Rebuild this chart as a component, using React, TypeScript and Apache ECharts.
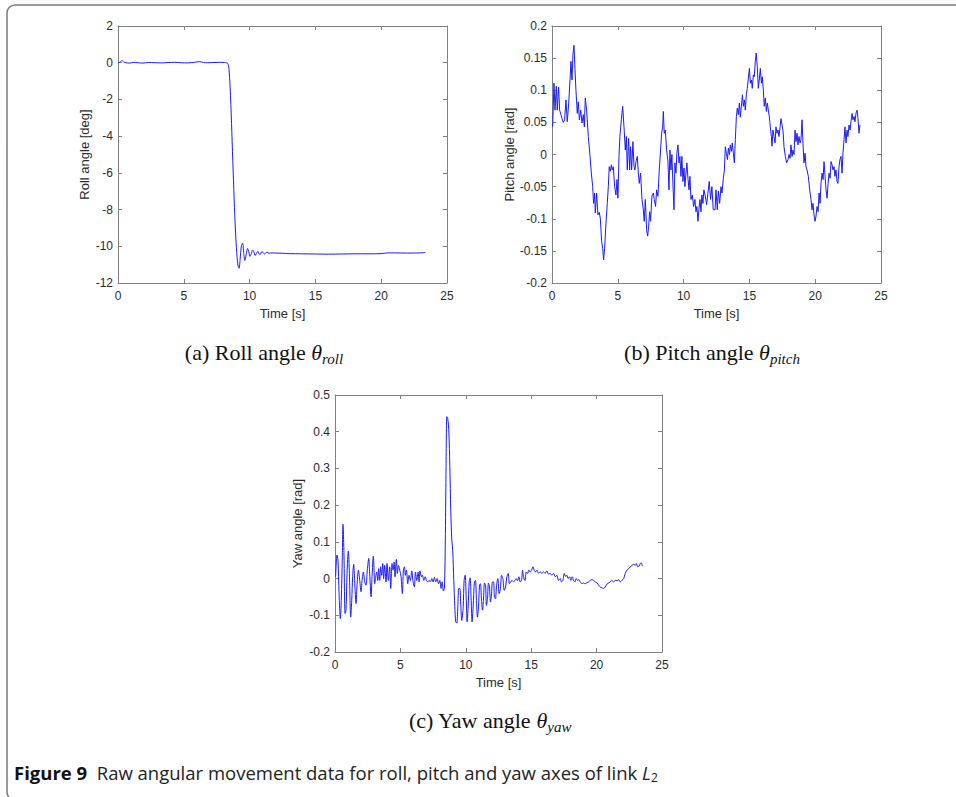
import React, { useEffect, useRef } from "react";
import * as echarts from "echarts";

// ---- data (time [s], value) ----
const roll: number[][] = [
  [0, 0], [0.15, 0.03], [0.3, 0.12], [0.45, 0.03], [0.6, 0], [0.9, -0.02], [1.2, 0.02], [1.5, 0], [1.9, -0.02],
  [2.3, 0.01], [2.8, 0], [3.3, -0.01], [3.8, 0.01], [4.3, 0.02], [4.8, 0], [5.3, -0.01], [5.8, 0.02], [6.2, 0.06],
  [6.5, 0.01], [6.8, 0], [7.2, 0.01], [7.7, 0.02], [8.1, 0.01], [8.35, -0.05], [8.45, -0.5], [8.55, -1.8],
  [8.65, -3.8], [8.75, -5.9], [8.85, -7.9], [8.95, -9.5], [9.05, -10.6], [9.13, -11.1], [9.2, -11.2],
  [9.28, -10.7], [9.37, -10.0], [9.47, -9.83], [9.56, -10.4], [9.64, -10.77], [9.74, -10.45], [9.85, -10.12],
  [9.94, -10.3], [10.03, -10.55], [10.13, -10.4], [10.23, -10.2], [10.32, -10.3], [10.42, -10.5], [10.52, -10.38],
  [10.62, -10.27], [10.72, -10.42], [10.82, -10.44], [10.92, -10.3], [11.02, -10.33], [11.12, -10.42],
  [11.22, -10.37], [11.32, -10.32], [11.45, -10.38], [11.7, -10.36], [12.0, -10.37], [12.5, -10.38], [13, -10.4],
  [14, -10.41], [15, -10.42], [16, -10.43], [17, -10.42], [18, -10.41], [19, -10.41], [20, -10.4], [20.5, -10.36],
  [21, -10.36], [22, -10.37], [23, -10.36], [23.35, -10.34],
];

const pitch: number[][] = [
  [0.05, 0.0435], [0.15, 0.111], [0.23, 0.069], [0.33, 0.106], [0.4, 0.069], [0.5, 0.105], [0.58, 0.069],
  [0.68, 0.062], [0.76, 0.056], [0.86, 0.05], [0.96, 0.054], [1.06, 0.085], [1.16, 0.051], [1.27, 0.08],
  [1.37, 0.116], [1.44, 0.145], [1.52, 0.116], [1.59, 0.155], [1.67, 0.17], [1.75, 0.132], [1.82, 0.1],
  [1.92, 0.064], [2.0, 0.082], [2.08, 0.054], [2.18, 0.069], [2.28, 0.049], [2.38, 0.062], [2.46, 0.043],
  [2.53, 0.088], [2.63, 0.069], [2.76, 0.028], [2.89, -0.003], [2.99, -0.029], [3.09, -0.05], [3.16, -0.076],
  [3.24, -0.06], [3.29, -0.091], [3.39, -0.06], [3.49, -0.094], [3.59, -0.09], [3.67, -0.099], [3.77, -0.135],
  [3.85, -0.146], [3.92, -0.164], [4.0, -0.146], [4.1, -0.107], [4.2, -0.076], [4.28, -0.05], [4.35, -0.019],
  [4.43, -0.026], [4.51, -0.016], [4.58, -0.024], [4.66, -0.019], [4.76, -0.05], [4.86, -0.063], [4.94, -0.039],
  [5.01, -0.068], [5.09, -0.003], [5.16, 0.028], [5.27, 0.054], [5.37, 0.075], [5.47, 0.043], [5.57, 0.007],
  [5.65, 0.028], [5.72, -0.024], [5.82, 0.025], [5.9, -0.024], [5.97, 0.012], [6.05, -0.024], [6.15, 0.02],
  [6.23, -0.019], [6.3, -0.024], [6.38, -0.011], [6.48, -0.003], [6.56, -0.029], [6.63, -0.045], [6.73, -0.029],
  [6.84, -0.07], [6.94, -0.086], [7.01, -0.104], [7.09, -0.07], [7.19, -0.117], [7.27, -0.127], [7.34, -0.112],
  [7.42, -0.089], [7.49, -0.104], [7.59, -0.065], [7.7, -0.06], [7.77, -0.07], [7.87, -0.081], [7.95, -0.055],
  [8.05, -0.065], [8.15, -0.024], [8.25, 0.007], [8.33, 0.033], [8.41, 0.043], [8.46, 0.067], [8.53, 0.033],
  [8.61, 0.038], [8.71, 0.007], [8.81, -0.011], [8.89, -0.055], [8.96, 0.007], [9.04, -0.024], [9.11, 0],
  [9.19, -0.047], [9.27, -0.086], [9.34, -0.013], [9.42, -0.029], [9.49, 0.002], [9.57, 0.015], [9.65, -0.013],
  [9.72, -0.003], [9.8, -0.034], [9.87, -0.003], [9.95, -0.042], [10.03, -0.021], [10.1, -0.05], [10.18, -0.029],
  [10.25, -0.013], [10.33, -0.037], [10.41, -0.055], [10.48, -0.034], [10.56, -0.07], [10.66, -0.063],
  [10.76, -0.081], [10.86, -0.07], [10.94, -0.089], [11.01, -0.081], [11.09, -0.104], [11.16, -0.086],
  [11.24, -0.07], [11.32, -0.089], [11.39, -0.063], [11.47, -0.076], [11.54, -0.055], [11.65, -0.065],
  [11.75, -0.078], [11.85, -0.06], [11.95, -0.042], [12.05, -0.07], [12.15, -0.05], [12.25, -0.086],
  [12.39, -0.086], [12.46, -0.055], [12.56, -0.086], [12.64, -0.057], [12.74, -0.076], [12.84, -0.05],
  [12.92, -0.06], [13.02, -0.037], [13.1, -0.024], [13.17, 0.012], [13.25, 0.002], [13.33, -0.008], [13.4, 0.01],
  [13.48, 0], [13.55, 0.015], [13.63, 0.005], [13.7, 0.018], [13.78, 0.002], [13.86, -0.013], [13.93, 0.023],
  [14.01, 0.059], [14.08, 0.072], [14.16, 0.062], [14.24, 0.08], [14.31, 0.058], [14.39, 0.075], [14.47, 0.093],
  [14.54, 0.075], [14.62, 0.085], [14.69, 0.069], [14.77, 0.093], [14.84, 0.103], [14.92, 0.119], [15.0, 0.134],
  [15.07, 0.111], [15.15, 0.116], [15.22, 0.103], [15.3, 0.124], [15.37, 0.121], [15.45, 0.145], [15.52, 0.158],
  [15.6, 0.137], [15.68, 0.103], [15.75, 0.116], [15.83, 0.134], [15.91, 0.111], [15.98, 0.121], [16.06, 0.1],
  [16.13, 0.075], [16.21, 0.088], [16.29, 0.067], [16.36, 0.08], [16.44, 0.069], [16.51, 0.059], [16.59, 0.043],
  [16.67, 0.028], [16.72, 0.013], [16.79, 0.038], [16.87, 0.028], [16.95, 0.018], [17.02, 0.043], [17.1, 0.033],
  [17.17, 0.038], [17.25, 0.028], [17.33, 0.043], [17.4, 0.056], [17.48, 0.046], [17.56, 0.036], [17.63, 0.012],
  [17.73, -0.003], [17.83, -0.013], [17.93, -0.008], [18.01, 0], [18.09, -0.006], [18.16, 0.015], [18.24, -0.003],
  [18.31, 0.007], [18.39, 0], [18.47, 0.038], [18.54, 0.02], [18.62, 0.033], [18.69, 0.015], [18.77, 0.028],
  [18.85, 0.018], [18.92, 0.023], [19.0, 0.054], [19.07, 0.018], [19.15, -0.013], [19.23, 0.002], [19.3, -0.019],
  [19.38, -0.024], [19.48, -0.034], [19.58, -0.055], [19.68, -0.07], [19.76, -0.086], [19.83, -0.076],
  [19.91, -0.094], [19.99, -0.104], [20.06, -0.096], [20.14, -0.081], [20.22, -0.089], [20.29, -0.06],
  [20.37, -0.076], [20.44, -0.045], [20.52, -0.029], [20.6, -0.039], [20.67, -0.011], [20.75, -0.034],
  [20.82, -0.055], [20.9, -0.068], [20.98, -0.045], [21.05, -0.029], [21.13, -0.037], [21.2, -0.011],
  [21.28, -0.016], [21.35, -0.024], [21.43, -0.019], [21.5, -0.034], [21.58, -0.024], [21.66, -0.042],
  [21.73, -0.045], [21.81, -0.019], [21.88, -0.008], [21.96, -0.003], [22.04, -0.029], [22.11, 0.002],
  [22.19, 0.023], [22.26, 0.043], [22.34, 0.018], [22.42, 0.038], [22.49, 0.028], [22.57, 0.046], [22.65, 0.038],
  [22.72, 0.051], [22.8, 0.064], [22.87, 0.054], [22.95, 0.059], [23.02, 0.051], [23.1, 0.064], [23.18, 0.069],
  [23.25, 0.056], [23.33, 0.033], [23.4, 0.046],
];

const yaw: number[][] = [
  [0.05, 0.005], [0.15, 0.064], [0.23, 0.05], [0.31, -0.041], [0.41, -0.109], [0.48, -0.059], [0.56, 0.059],
  [0.61, 0.148], [0.69, 0.059], [0.77, -0.095], [0.84, -0.086], [0.92, 0.014], [1.02, 0.075], [1.1, 0.014],
  [1.2, -0.105], [1.28, -0.059], [1.35, 0.005], [1.43, 0.039], [1.5, -0.005], [1.61, -0.068], [1.68, -0.023],
  [1.79, 0.023], [1.89, -0.005], [1.99, -0.036], [2.07, -0.005], [2.17, 0.018], [2.27, -0.009], [2.37, -0.018],
  [2.47, 0.023], [2.58, 0.055], [2.65, 0.014], [2.76, -0.05], [2.83, 0.005], [2.93, 0.061], [3.04, -0.014],
  [3.11, 0.005], [3.19, 0.018], [3.27, -0.005], [3.34, 0.027], [3.42, -0.005], [3.49, 0.032], [3.57, 0.009],
  [3.65, 0.041], [3.72, 0], [3.8, 0.036], [3.9, -0.009], [3.98, 0.041], [4.08, -0.005], [4.18, 0.032],
  [4.26, -0.027], [4.36, 0.041], [4.44, 0.023], [4.52, 0.045], [4.59, 0.005], [4.69, 0.052], [4.77, 0.014],
  [4.85, 0.036], [4.95, 0.023], [5.05, 0.005], [5.15, -0.041], [5.23, 0.023], [5.31, 0.032], [5.38, 0.009],
  [5.46, 0.023], [5.56, -0.014], [5.66, 0.009], [5.77, -0.005], [5.87, 0.021], [5.97, -0.009], [6.07, -0.023],
  [6.15, 0.018], [6.25, -0.005], [6.35, 0.018], [6.43, -0.009], [6.5, 0.021], [6.61, 0.005], [6.68, 0.009],
  [6.79, -0.005], [6.89, 0.005], [6.99, -0.005], [7.09, -0.009], [7.19, -0.005], [7.3, -0.009], [7.4, 0],
  [7.5, -0.009], [7.6, 0.003], [7.7, -0.009], [7.81, 0], [7.91, -0.014], [8.01, -0.005], [8.11, -0.027],
  [8.19, -0.009], [8.29, -0.034], [8.37, -0.023], [8.44, 0.123], [8.49, 0.305], [8.55, 0.441], [8.62, 0.436],
  [8.7, 0.405], [8.78, 0.305], [8.85, 0.186], [8.93, 0.105], [9.0, 0.077], [9.08, -0.005], [9.16, -0.077],
  [9.23, -0.118], [9.31, -0.121], [9.39, -0.077], [9.46, -0.027], [9.54, -0.027], [9.62, -0.077], [9.69, -0.114],
  [9.8, -0.077], [9.87, -0.005], [9.95, 0.009], [10.03, -0.05], [10.1, -0.118], [10.18, -0.077], [10.26, -0.009],
  [10.33, 0.002], [10.41, -0.059], [10.48, -0.118], [10.56, -0.077], [10.66, -0.009], [10.74, -0.005],
  [10.82, -0.068], [10.89, -0.105], [10.97, -0.077], [11.05, -0.018], [11.12, -0.014], [11.2, -0.059],
  [11.28, -0.086], [11.35, -0.059], [11.43, -0.012], [11.51, -0.018], [11.58, -0.073], [11.66, -0.055],
  [11.73, -0.012], [11.81, -0.023], [11.89, -0.064], [11.96, -0.045], [12.04, -0.009], [12.12, -0.009],
  [12.19, -0.05], [12.27, -0.055], [12.35, -0.018], [12.45, 0], [12.55, -0.041], [12.65, -0.027], [12.73, 0.009],
  [12.83, 0], [12.94, -0.032], [13.04, -0.023], [13.14, 0.005], [13.24, 0.014], [13.34, -0.014], [13.44, -0.009],
  [13.54, -0.005], [13.65, -0.009], [13.75, -0.005], [13.85, 0], [13.95, -0.006], [14.06, 0.005], [14.16, -0.009],
  [14.26, -0.005], [14.34, 0.023], [14.41, 0.005], [14.52, -0.005], [14.62, 0.018], [14.72, 0.014],
  [14.82, 0.023], [14.92, 0.018], [15.03, 0.023], [15.13, 0.032], [15.23, 0.023], [15.33, 0.018], [15.44, 0.023],
  [15.56, 0.015], [15.69, 0.018], [15.82, 0.014], [15.94, 0.018], [16.07, 0.014], [16.2, 0.021], [16.33, 0.012],
  [16.45, 0.014], [16.58, 0.009], [16.71, 0.014], [16.84, 0.005], [16.96, 0.009], [17.09, -0.005], [17.22, 0],
  [17.32, -0.009], [17.42, -0.005], [17.53, 0.014], [17.63, 0.006], [17.73, 0.009], [17.83, 0], [17.94, 0.005],
  [18.04, -0.005], [18.14, 0.005], [18.24, -0.005], [18.34, -0.009], [18.44, 0], [18.54, -0.005],
  [18.65, -0.003], [18.75, -0.009], [18.88, -0.014], [19.0, -0.012], [19.13, -0.014], [19.26, -0.011],
  [19.39, -0.009], [19.52, -0.005], [19.64, -0.003], [19.77, -0.005], [19.9, -0.009], [20.03, -0.012],
  [20.15, -0.018], [20.28, -0.023], [20.41, -0.025], [20.54, -0.027], [20.66, -0.023], [20.79, -0.015],
  [20.92, -0.012], [21.05, -0.009], [21.17, -0.005], [21.3, -0.009], [21.43, -0.005], [21.56, -0.006],
  [21.68, -0.003], [21.81, -0.009], [21.94, -0.005], [22.07, 0], [22.19, 0.014], [22.32, 0.023], [22.45, 0.027],
  [22.58, 0.032], [22.7, 0.036], [22.83, 0.039], [22.96, 0.036], [23.04, 0.041], [23.14, 0.032], [23.24, 0.034],
  [23.34, 0.041], [23.41, 0.043], [23.49, 0.034],
];

const timeTicks = { min: 0, max: 25, interval: 5 };
const rollTicks = { min: -12, max: 2, interval: 2 };
const pitchTicks = { min: -0.2, max: 0.2, interval: 0.05 };
const yawTicks = { min: -0.2, max: 0.5, interval: 0.1 };

const captionA = "(a) Roll angle ";
const captionB = "(b) Pitch angle ";
const captionC = "(c) Yaw angle ";
const figureLabel = "Figure 9";
const figureText = "  Raw angular movement data for roll, pitch and yaw axes of link ";

const SANS = "'Liberation Sans', Arial, Helvetica, sans-serif";
const SERIF = "'Liberation Serif', 'DejaVu Serif', serif";
const LINE = "#808080";
const LABEL = "#2a2a2a";
const BLUE = "#1a1aff";

function axisPair(gridIndex: number, yt: { min: number; max: number; interval: number }, yName: string, yGap: number) {
  const common = {
    gridIndex,
    type: "value" as const,
    axisLine: { show: true, onZero: false, lineStyle: { color: LINE, width: 1 } },
    axisTick: { show: true, inside: true, length: 4, lineStyle: { color: LINE } },
    splitLine: { show: false },
  };
  const xs = [
    {
      ...common,
      ...timeTicks,
      position: "bottom",
      name: "Time [s]",
      nameLocation: "middle",
      nameGap: 24,
      nameTextStyle: { fontSize: 13, color: LABEL, fontFamily: SANS },
      axisLabel: { fontSize: 12, color: LABEL, margin: 7, fontFamily: SANS },
    },
    { ...common, ...timeTicks, position: "top", axisLabel: { show: false } },
  ];
  const ys = [
    {
      ...common,
      ...yt,
      position: "left",
      name: yName,
      nameLocation: "middle",
      nameGap: yGap,
      nameTextStyle: { fontSize: 13, color: LABEL, fontFamily: SANS },
      axisLabel: { fontSize: 12, color: LABEL, margin: 5, fontFamily: SANS },
    },
    { ...common, ...yt, position: "right", axisLabel: { show: false } },
  ];
  return { xs, ys };
}

export default function App() {
  const ref = useRef<HTMLDivElement>(null);
  useEffect(() => {
    if (!ref.current) return;
    const chart = echarts.init(ref.current, undefined, { renderer: "svg" });
    const a = axisPair(0, rollTicks, "Roll angle [deg]", 27);
    const b = axisPair(1, pitchTicks, "Pitch angle [rad]", 34);
    const c = axisPair(2, yawTicks, "Yaw angle [rad]", 31);
    const capStyle = {
      a: { fontFamily: SERIF, fontSize: 22, fill: "#111", lineHeight: 28 },
      t: { fontFamily: SERIF, fontSize: 22, fontStyle: "italic", fill: "#111", lineHeight: 28 },
      s: { fontFamily: SERIF, fontSize: 15, fontStyle: "italic", fill: "#111", lineHeight: 15, verticalAlign: "bottom" },
    };
    chart.setOption({
      animation: false,
      backgroundColor: "#ffffff",
      grid: [
        { left: 118, top: 26, width: 329, height: 257 },
        { left: 552, top: 26, width: 329, height: 257 },
        { left: 335, top: 395, width: 327, height: 257 },
      ],
      xAxis: [...a.xs, ...b.xs, ...c.xs],
      yAxis: [...a.ys, ...b.ys, ...c.ys],
      series: [
        { type: "line", xAxisIndex: 0, yAxisIndex: 0, data: roll, showSymbol: false, smooth: 0.3, lineStyle: { color: BLUE, width: 1 } },
        { type: "line", xAxisIndex: 2, yAxisIndex: 2, data: pitch, showSymbol: false, lineStyle: { color: BLUE, width: 1 } },
        { type: "line", xAxisIndex: 4, yAxisIndex: 4, data: yaw, showSymbol: false, smooth: 0.3, lineStyle: { color: BLUE, width: 1 } },
      ],
      graphic: [
        {
          type: "rect",
          silent: true,
          z: -10,
          shape: { x: 7, y: 5, width: 1000, height: 795, r: 8 },
          style: { fill: "none", stroke: "#7a7a7a", lineWidth: 1.5 },
        },
        {
          type: "text",
          x: 264,
          y: 352,
          style: { text: `{a|${captionA}}{t|θ}{s|roll}`, rich: capStyle, align: "center", verticalAlign: "middle" },
        },
        {
          type: "text",
          x: 712,
          y: 352,
          style: { text: `{a|${captionB}}{t|θ}{s|pitch}`, rich: capStyle, align: "center", verticalAlign: "middle" },
        },
        {
          type: "text",
          x: 490,
          y: 720,
          style: { text: `{a|${captionC}}{t|θ}{s|yaw}`, rich: capStyle, align: "center", verticalAlign: "middle" },
        },
        {
          type: "text",
          x: 14,
          y: 772,
          style: {
            text: `{b|${figureLabel}}{r|${figureText}}{l|L}{s|2}`,
            align: "left",
            verticalAlign: "middle",
            rich: {
              b: { fontFamily: "'Open Sans', sans-serif", fontSize: 18.5, fontWeight: "bold", fill: "#111", lineHeight: 22 },
              r: { fontFamily: "'Open Sans', sans-serif", fontSize: 18.5, fill: "#222", lineHeight: 22 },
              l: { fontFamily: "'Open Sans', sans-serif", fontSize: 18.5, fontStyle: "italic", fill: "#222", lineHeight: 22 },
              s: { fontFamily: "'Open Sans', sans-serif", fontSize: 12, fill: "#222", lineHeight: 12, verticalAlign: "bottom" },
            },
          },
        },
      ],
    });
    return () => chart.dispose();
  }, []);
  return <div ref={ref} style={{ position: "absolute", left: 0, top: 0, width: 956, height: 797 }} />;
}
